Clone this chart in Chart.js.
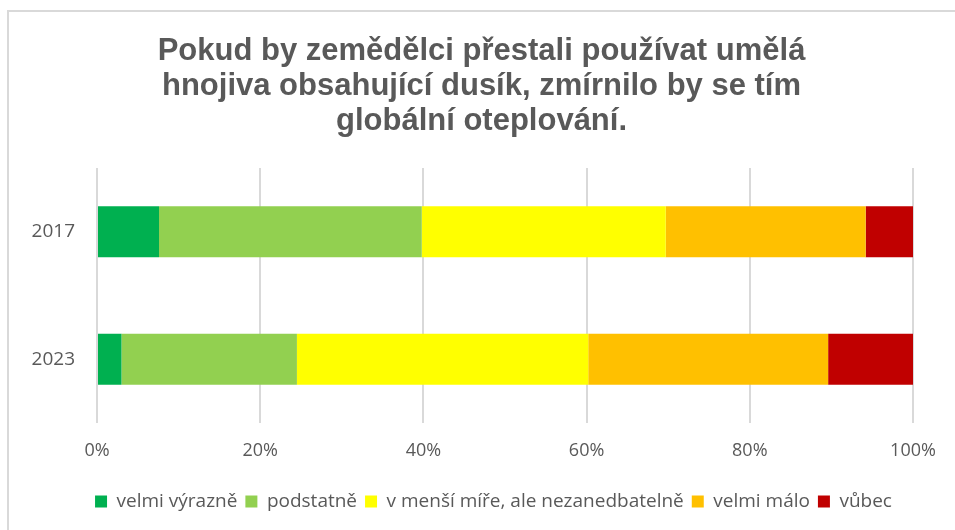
<!DOCTYPE html>
<html>
<head>
<meta charset="utf-8">
<script src="https://cdn.jsdelivr.net/npm/chart.js@4"></script>
<style>
  html, body { margin: 0; padding: 0; background: #fff; }
  #wrap { position: relative; width: 955px; height: 530px; }
  #frame { position: absolute; left: 7px; top: 10px; right: 0; bottom: 0;
           border-top: 2px solid #d9d9d9; border-left: 2px solid #d9d9d9; }
  canvas { position: absolute; left: 0; top: 0; }
</style>
</head>
<body>
<div id="wrap">
  <div id="frame"></div>
  <canvas id="chart" width="955" height="530"></canvas>
</div>
<script>
const categories = ['2017', '2023'];
const velmiVyrazne = [7.6, 3.0];
const podstatne = [32.2, 21.5];
const vMensiMire = [29.9, 35.7];
const velmiMalo = [24.5, 29.4];
const vubec = [5.8, 10.4];

const seriesNames = ['velmi výrazně', 'podstatně', 'v menší míře, ale nezanedbatelně', 'velmi málo', 'vůbec'];
const seriesValues = [velmiVyrazne, podstatne, vMensiMire, velmiMalo, vubec];
const colors = ['#00B050', '#92D050', '#FFFF00', '#FFC000', '#C00000'];

const titleLines = ['Pokud by zemědělci přestali používat umělá', 'hnojiva obsahující dusík, zmírnilo by se tím', 'globální oteplování.'];

const labelFont = 'Open Sans, sans-serif';

// the title and legend sit a bit right of the plot centre in the original
const shiftBoxes = {
    id: 'shiftBoxes',
    afterLayout(chart) {
        chart.titleBlock.left += 15;
        chart.titleBlock.right += 15;
        chart.legend.left += 27;
        chart.legend.right += 27;
    }
};

new Chart(document.getElementById('chart'), {
    type: 'bar',
    data: {
        labels: categories,
        datasets: seriesNames.map((name, i) => ({
            label: name,
            data: seriesValues[i],
            backgroundColor: colors[i],
            borderWidth: 0,
            categoryPercentage: 1,
            barPercentage: 0.4
        }))
    },
    options: {
        indexAxis: 'y',
        responsive: false,
        animation: false,
        layout: { padding: { top: 34, left: 20, right: 42, bottom: 9 } },
        plugins: {
            title: {
                display: true,
                text: titleLines,
                color: '#595959',
                font: { family: 'Liberation Sans, Arial, sans-serif', size: 31, weight: 'bold', lineHeight: 1.13 },
                padding: { top: 0, bottom: 29 }
            },
            legend: {
                position: 'bottom',
                labels: {
                    color: '#595959',
                    font: { family: labelFont, size: 19 },
                    boxWidth: 12,
                    boxHeight: 12,
                    padding: 8
                }
            },
            tooltip: { enabled: false }
        },
        scales: {
            x: {
                stacked: true,
                min: 0,
                max: 100,
                ticks: {
                    stepSize: 20,
                    color: '#595959',
                    font: { family: labelFont, size: 18 },
                    padding: 17,
                    callback: v => v + '%'
                },
                grid: { color: '#d9d9d9', lineWidth: 2, drawTicks: false },
                border: { display: false },
                afterFit: s => { s.height = 61; }
            },
            y: {
                stacked: true,
                ticks: {
                    color: '#595959',
                    font: { family: labelFont, size: 19 },
                    padding: 22
                },
                grid: { display: false, drawTicks: false },
                border: { display: false },
                afterFit: s => { s.width = 77; }
            }
        }
    },
    plugins: [shiftBoxes]
});
</script>
</body>
</html>
